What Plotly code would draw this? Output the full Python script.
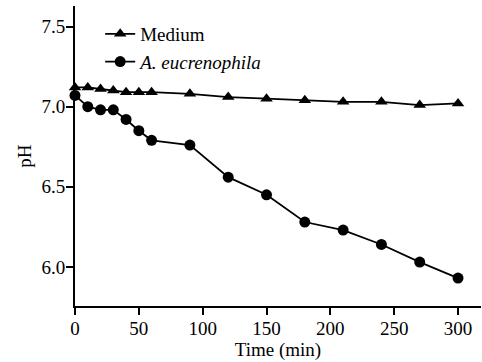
import plotly.graph_objects as go

time_min = [0, 10, 20, 30, 40, 50, 60, 90, 120, 150, 180, 210, 240, 270, 300]
medium_ph = [7.12, 7.12, 7.11, 7.10, 7.09, 7.09, 7.09, 7.08, 7.06, 7.05, 7.04, 7.03, 7.03, 7.01, 7.02]
aeuc_ph = [7.07, 7.00, 6.98, 6.98, 6.92, 6.85, 6.79, 6.76, 6.56, 6.45, 6.28, 6.23, 6.14, 6.03, 5.93]
x_ticks = [0, 50, 100, 150, 200, 250, 300]
y_ticks = [6.0, 6.5, 7.0, 7.5]

font = "'Times New Roman', 'Liberation Serif', serif"

fig = go.Figure()
fig.add_trace(go.Scatter(
    x=time_min, y=medium_ph, mode="lines+markers", name="Medium",
    line=dict(color="black", width=1.8),
    marker=dict(symbol="triangle-up", size=11, color="black"),
    cliponaxis=False,
))
fig.add_trace(go.Scatter(
    x=time_min, y=aeuc_ph, mode="lines+markers", name="<i>A. eucrenophila</i>",
    line=dict(color="black", width=1.8),
    marker=dict(symbol="circle", size=11, color="black"),
    cliponaxis=False,
))

fig.update_layout(
    width=482, height=362,
    margin=dict(l=75, r=1, t=6, b=56, autoexpand=False),
    paper_bgcolor="white", plot_bgcolor="white",
    font=dict(family=font, size=19, color="black"),
    showlegend=True,
    legend=dict(x=0.062, y=0.97, xanchor="left", yanchor="top",
                bgcolor="rgba(0,0,0,0)", font=dict(family=font, size=19),
                tracegroupgap=0, itemwidth=30),
)
fig.update_xaxes(
    range=[0, 318], tickvals=x_ticks, ticktext=[str(v) for v in x_ticks],
    showline=True, linecolor="black", linewidth=2,
    ticks="outside", ticklen=7, tickwidth=2, tickcolor="black",
    ticklabelstandoff=-3,
    showgrid=False, zeroline=False, automargin=False,
    title=dict(text="Time (min)", font=dict(family=font, size=19), standoff=0),
    tickfont=dict(family=font, size=19),
)
fig.update_yaxes(
    range=[5.756, 7.628], tickvals=y_ticks, ticktext=["%.1f" % v for v in y_ticks],
    showline=True, linecolor="black", linewidth=2,
    ticks="outside", ticklen=7, tickwidth=2, tickcolor="black",
    ticklabelstandoff=-3,
    showgrid=False, zeroline=False, automargin=False,
    title=dict(text="pH", font=dict(family=font, size=19), standoff=5),
    tickfont=dict(family=font, size=19),
)

fig.write_html("out.html", config={"displayModeBar": False},
               post_script="document.body.style.margin='0px';")
